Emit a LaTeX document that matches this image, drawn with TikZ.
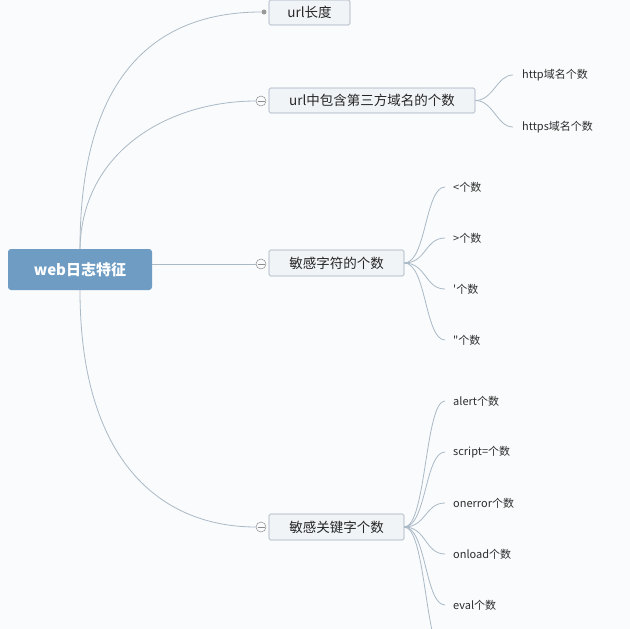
\documentclass[tikz,border=0pt]{standalone}
\usepackage{fontspec}
\newfontfamily\cjk{Noto Sans CJK SC}
\definecolor{bg}{HTML}{FAFBFC}
\definecolor{rootfill}{HTML}{6E9CC3}
\definecolor{boxfill}{HTML}{F1F4F7}
\definecolor{boxline}{HTML}{9EADBA}
\definecolor{conn}{HTML}{AAB9C6}
\definecolor{leaftext}{HTML}{2E2E2E}
\tikzset{
  rootbox/.style={draw=none, fill=rootfill, rounded corners=3pt, minimum width=144pt, minimum height=41pt, text=white, font=\cjk\fontsize{15}{18}\selectfont\bfseries, inner sep=0pt},
  topicbox/.style={draw=boxline, fill=boxfill, rounded corners=1.5pt, minimum height=25pt, font=\cjk\fontsize{13.5}{16}\selectfont, text=black!85, inner sep=0pt, line width=0.6pt},
  leaf/.style={anchor=west, inner sep=0pt, font=\cjk\fontsize{11}{13}\selectfont, text=leaftext},
  fold/.style={circle, draw=black!45, fill=bg, minimum size=10pt, inner sep=0pt, line width=0.5pt},
  dotmark/.style={circle, fill=black!40, minimum size=5pt, inner sep=0pt},
  link/.style={draw=conn, line width=0.8pt},
}
\begin{document}
\begin{tikzpicture}[x=1pt,y=-1pt]
\useasboundingbox (0,0) rectangle (630,629);
\fill[bg] (0,0) rectangle (630,629);
\clip (0,0) rectangle (630,629);

% root
\node[rootbox] (root) at (80,269.5) {web日志特征};

% topics
\node[topicbox, minimum width=81pt] (c1) at (309.5,12.5) {url长度};
\node[topicbox, minimum width=206pt] (c2) at (372,100.5) {url中包含第三方域名的个数};
\node[topicbox, minimum width=135pt, minimum height=26pt] (c3) at (336.5,263) {敏感字符的个数};
\node[topicbox, minimum width=135pt, minimum height=26pt] (c4) at (336.5,527) {敏感关键字个数};

% markers
\node[dotmark] (d1) at (264,12) {};
\coordinate (k2) at (261,101);
\coordinate (k3) at (261,264);
\coordinate (k4) at (261,527);

% root connectors
\draw[link] (root.north) .. controls (80,70) and (160,12) .. (d1.west);
\draw[link] (root.north) .. controls (82,150) and (170,101) .. ([xshift=-5pt]k2);
\draw[link] (root.east |- k3) -- ([xshift=-5pt]k3);
\draw[link] (root.south) .. controls (80,460) and (160,527) .. ([xshift=-5pt]k4);

% fold circles
\foreach \k in {k2,k3,k4}{
  \node[fold] (f\k) at (\k) {};
  \draw[black!45, line width=0.5pt] ([xshift=-3.5pt]\k) -- ([xshift=3.5pt]\k);
}

% leaves of c2
\node[leaf] (a1) at (522,75) {http域名个数};
\node[leaf] (a2) at (522,127) {https域名个数};
\foreach \l in {a1,a2}{
  \draw[link] (c2.east) .. controls +(18,0) and +(-16,0) .. ([xshift=-9pt]\l.west);
}

% leaves of c3
\node[leaf] (b1) at (453,187) {<个数};
\node[leaf] (b2) at (453,238) {>个数};
\node[leaf] (b3) at (453,289) {'个数};
\node[leaf] (b4) at (453,340) {"个数};
\foreach \l in {b1,b2,b3,b4}{
  \draw[link] (c3.east) .. controls +(22,0) and +(-20,0) .. ([xshift=-8pt]\l.west);
}

% leaves of c4
\node[leaf] (e1) at (453,401) {alert个数};
\node[leaf] (e2) at (453,452) {script=个数};
\node[leaf] (e3) at (453,503) {onerror个数};
\node[leaf] (e4) at (453,554) {onload个数};
\node[leaf] (e5) at (453,605) {eval个数};
\coordinate (e6) at (453,656);
\foreach \l in {e1,e2,e3,e4,e5}{
  \draw[link] (c4.east) .. controls +(22,0) and +(-20,0) .. ([xshift=-8pt]\l.west);
}
\draw[link] (c4.east) .. controls +(22,0) and +(-20,0) .. ([xshift=-8pt]e6);
\end{tikzpicture}
\end{document}
